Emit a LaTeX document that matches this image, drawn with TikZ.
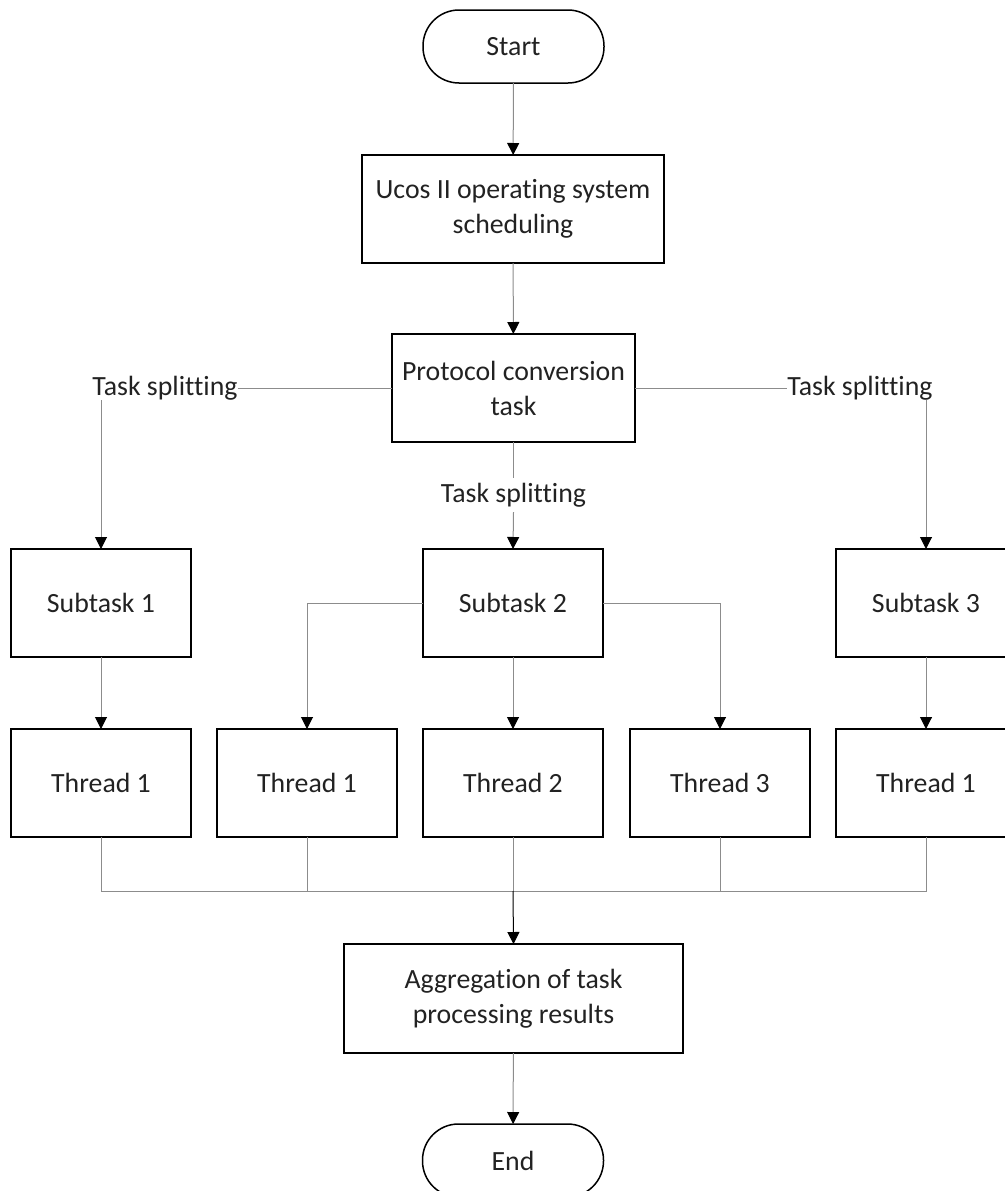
\documentclass[tikz,border=0pt]{standalone}
\usepackage{fontspec}
\setmainfont{Carlito}[Ligatures={NoCommon}]
\usetikzlibrary{arrows.meta}
\definecolor{conngray}{HTML}{8C8C8C}
\definecolor{txt}{HTML}{222222}
\tikzset{
  box/.style={draw=black, line width=1.5pt, rectangle, outer sep=0pt, inner sep=2pt,
    minimum height=108pt, align=center, text=txt,
    font=\fontsize{27.8}{35}\selectfont},
  pill/.style={box, rounded corners=36pt, minimum width=181pt, minimum height=73pt},
  lbl/.style={inner sep=0pt, outer sep=0pt, text=txt, font=\fontsize{27.8}{35}\selectfont},
  conn/.style={draw=conngray, line width=1pt},
  arr/.style={conn, -{Triangle[length=12pt,width=12pt,color=black]}},
}
\begin{document}
\begin{tikzpicture}[x=1pt,y=-1pt]
\useasboundingbox (0,0) rectangle (1004,1191);
\node[pill] (start) at (513.5,46.5) {Start};
\node[box, minimum width=302pt] (ucos) at (513,209) {Ucos II operating system\\scheduling};
\node[box, minimum width=243pt] (proto) at (513.5,388) {Protocol conversion\\task};
\node[lbl] (ts1) at (165,388) {Task splitting};
\node[lbl] (ts3) at (860,388) {Task splitting};
\node[lbl, inner sep=5pt] (ts2) at (513.5,495) {Task splitting};
\node[box, minimum width=180pt] (sub1) at (101,603) {Subtask 1};
\node[box, minimum width=180pt] (sub2) at (513,603) {Subtask 2};
\node[box, minimum width=180pt] (sub3) at (926,603) {Subtask 3};
\node[box, minimum width=180pt] (th1a) at (101,783) {Thread 1};
\node[box, minimum width=180pt] (th1b) at (307,783) {Thread 1};
\node[box, minimum width=180pt] (th2) at (513,783) {Thread 2};
\node[box, minimum width=180pt] (th3) at (720,783) {Thread 3};
\node[box, minimum width=180pt] (th1c) at (926,783) {Thread 1};
\node[box, minimum width=339pt, minimum height=109pt] (agg) at (513.5,998.5) {Aggregation of task\\processing results};
\node[pill] (end) at (513,1160.5) {End};
\coordinate (j) at (513,891);

\draw[arr] (start) -- (ucos);
\draw[arr] (ucos) -- (proto);
\draw[conn] (ts1.east) -- (proto.west);
\draw[conn] (proto.east) -- (ts3.west);
\draw[arr] (ts1.south -| sub1.north) -- (sub1.north);
\draw[arr] (ts3.south -| sub3.north) -- (sub3.north);
\draw[conn] (proto.south) -- (ts2.north);
\draw[arr] (ts2.south) -- (sub2.north);
\draw[arr] (sub1) -- (th1a);
\draw[arr] (sub3) -- (th1c);
\draw[arr] (sub2) -- (th2);
\draw[arr] (sub2.west) -| (th1b.north);
\draw[arr] (sub2.east) -| (th3.north);
\draw[conn] (th1a.south) |- (j) -| (th1c.south);
\draw[conn] (th1b.south) -- (th1b.south |- j);
\draw[conn] (th2.south) -- (j);
\draw[conn] (th3.south) -- (th3.south |- j);
\draw[arr, draw=black] (j) -- (agg.north);
\draw[arr] (agg) -- (end);
\end{tikzpicture}
\end{document}
